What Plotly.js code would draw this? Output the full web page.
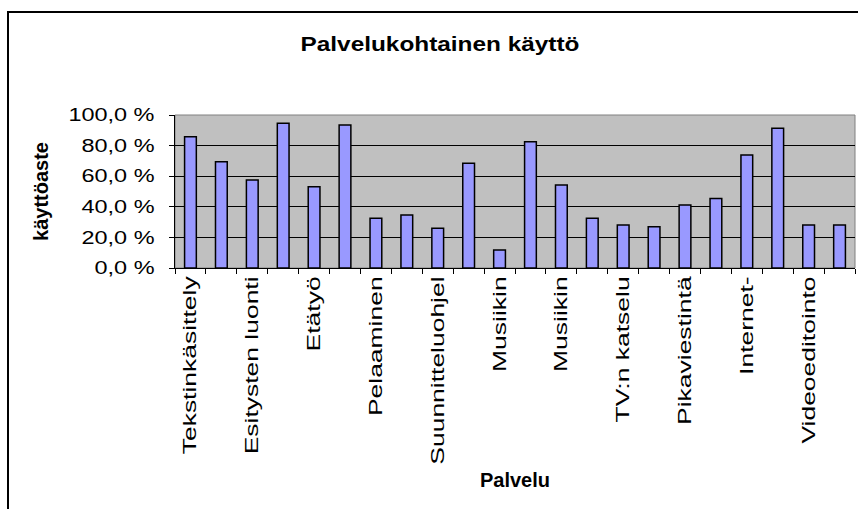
<!DOCTYPE html>
<html>
<head>
<meta charset="utf-8">
<script src="https://cdn.plot.ly/plotly-3.0.1.min.js"></script>
<style>
  html, body { margin: 0; padding: 0; background: #fff; overflow: hidden; }
  #wrap { position: relative; width: 858px; height: 509px; }
  #chart { position: absolute; left: 0; top: 0; width: 858px; height: 509px; }
  #frame { position: absolute; left: 7px; top: 11px; width: 900px; height: 600px;
           border-left: 2px solid #000; border-top: 2px solid #000; pointer-events: none; }
</style>
</head>
<body>
<div id="wrap">
  <div id="chart"></div>
  <div id="frame"></div>
</div>
<script>
// Data
const chartTitle = 'Palvelukohtainen käyttö';
const xTitle = 'Palvelu';
const yTitle = 'käyttöaste';
// Only every other category label is visible in the reference
const tickLabels = [
  'Tekstinkäsittely', '', 'Esitysten luonti', '', 'Etätyö', '',
  'Pelaaminen', '', 'Suunnitteluohjel', '', 'Musiikin', '',
  'Musiikin', '', 'TV:n katselu', '', 'Pikaviestintä', '',
  'Internet-', '', 'Videoeditointo', ''
];
const usagePercent = [
  85.8, 69.5, 57.5, 94.6, 53.1, 93.5,
  32.5, 34.6, 25.9, 68.4, 11.8, 82.5,
  54.2, 32.5, 28.1, 27.0, 41.2, 45.5,
  73.9, 91.3, 28.1, 28.1
];
const categoryIds = tickLabels.map((_, i) => 'k' + (i + 1));

const font = 'Liberation Sans, Arial, sans-serif';

const trace = {
  type: 'bar',
  x: categoryIds,
  y: usagePercent,
  marker: { color: '#9999ff', line: { color: '#000000', width: 1.5 } },
  hoverinfo: 'skip'
};

const layout = {
  width: 858,
  height: 509,
  margin: { l: 175, r: 3, t: 115, b: 241, pad: 0 },
  paper_bgcolor: '#ffffff',
  plot_bgcolor: '#c0c0c0',
  showlegend: false,
  bargap: 0.62,
  separators: ', ',
  font: { family: font, color: '#000000' },
  title: {
    text: chartTitle,
    font: { family: font, size: 21, color: '#000000', weight: 'bold' },
    x: 440 / 858, xanchor: 'center', xref: 'container',
    y: 1 - 44 / 509, yanchor: 'middle', yref: 'container'
  },
  xaxis: {
    type: 'category',
    tickvals: categoryIds,
    ticktext: tickLabels,
    tickson: 'boundaries',
    ticks: 'outside', ticklen: 5, tickcolor: '#000000', tickwidth: 1,
    tickangle: -90,
    tickfont: { family: font, size: 18.5, color: '#000000' },
    showline: true, linecolor: '#000000', linewidth: 1,
    showgrid: false, zeroline: false,
    automargin: false,
    title: { text: xTitle, font: { family: font, size: 20, color: '#000000', weight: 'bold' }, standoff: 65 }
  },
  yaxis: {
    range: [0, 100],
    tickmode: 'linear', tick0: 0, dtick: 20,
    tickformat: '.1f', ticksuffix: ' %',
    ticks: 'outside', ticklen: 5, tickcolor: '#000000', tickwidth: 1,
    tickfont: { family: font, size: 17.5, color: '#000000' },
    ticklabelstandoff: 11,
    showline: true, linecolor: '#000000', linewidth: 1,
    showgrid: true, gridcolor: '#000000', gridwidth: 1,
    zeroline: false,
    automargin: false,
    title: { text: yTitle, font: { family: font, size: 20, color: '#000000', weight: 'bold' }, standoff: 36 }
  },
  shapes: [{
    type: 'rect', xref: 'paper', yref: 'paper', x0: 0, x1: 1, y0: 0, y1: 1,
    line: { color: '#808080', width: 1 }, layer: 'below'
  }]
};

function stretchText(selector, factor) {
  document.querySelectorAll(selector).forEach(t => {
    const len = t.getComputedTextLength();
    if (len > 0) {
      t.setAttribute('textLength', (len * factor).toFixed(1));
      t.setAttribute('lengthAdjust', 'spacingAndGlyphs');
    }
  });
}

Plotly.newPlot('chart', [trace], layout, { staticPlot: true, displayModeBar: false }).then(() => {
  stretchText('#chart .xtick text', 1.43);
  stretchText('#chart .ytick text', 1.34);
  stretchText('#chart .gtitle', 1.16);
});
</script>
</body>
</html>
